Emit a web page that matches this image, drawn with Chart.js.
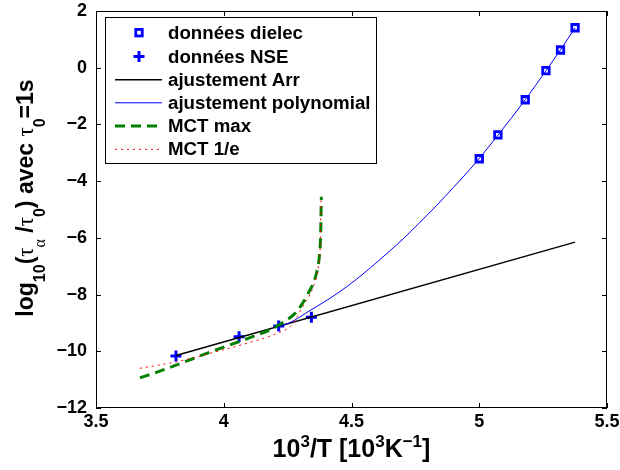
<!DOCTYPE html>
<html><head><meta charset="utf-8">
<script src="https://cdn.jsdelivr.net/npm/chart.js@4/dist/chart.umd.min.js"></script>
<style>html,body{margin:0;padding:0;background:#fff}#wrap{width:620px;height:470px;position:relative}</style>
</head><body><div id="wrap"><canvas id="c" width="620" height="470"></canvas></div>
<script>
// ---- data ----
const seriesLabels = ['données dielec','données NSE','ajustement Arr','ajustement polynomial','MCT max','MCT 1/e'];
const dielecX = [5.0, 5.073, 5.18, 5.261, 5.318, 5.375];
const dielecY = [-3.21, -2.37, -1.13, -0.105, 0.625, 1.41];
const nseX = [3.813, 4.06, 4.215, 4.343];
const nseY = [-10.17, -9.49, -9.11, -8.80];
const arrX = [3.813, 5.375];
const arrY = [-10.15, -6.15];
const polyX = [4.215, 4.259, 4.338, 4.416, 4.494, 4.572, 4.651, 4.703, 4.768, 4.833, 4.899, 4.95, 5.0, 5.073, 5.18, 5.261, 5.318, 5.375];
const polyY = [-9.12, -8.99, -8.56, -8.13, -7.64, -7.07, -6.45, -6.03, -5.45, -4.86, -4.22, -3.72, -3.2, -2.38, -1.13, -0.105, 0.63, 1.41];
const mctMaxX = [3.672, 3.75, 3.816, 3.946, 4.09, 4.19, 4.246, 4.285, 4.331, 4.361, 4.374, 4.379, 4.382];
const mctMaxY = [-10.94, -10.70, -10.48, -10.03, -9.56, -9.20, -8.90, -8.60, -7.95, -7.31, -6.66, -5.96, -4.55];
const mctEX = [3.672, 3.816, 3.946, 4.09, 4.207, 4.266, 4.312, 4.351, 4.37, 4.377, 4.379, 4.381];
const mctEY = [-10.60, -10.37, -10.07, -9.72, -9.37, -9.07, -8.37, -7.72, -7.02, -6.43, -5.6, -4.6];
const xTicks = [3.5, 4, 4.5, 5, 5.5];
const yTicks = [-12, -10, -8, -6, -4, -2, 0, 2];

const pts = (xs, ys) => xs.map((x, i) => ({x, y: ys[i]}));
const SANS = '"Liberation Sans", Arial, Helvetica, sans-serif';
const SERIF = '"Liberation Serif", "Times New Roman", serif';
const B24 = 'bold 23px ' + SANS, B16 = 'bold 16px ' + SANS;
const G24 = '23px ' + SERIF, G16 = '16px ' + SERIF;
const X25 = 'bold 25px ' + SANS, X17 = 'bold 17px ' + SANS;
const fmt = v => String(v).replace('-', '\u2212');

const yTitle = [
  {t:'log', f:B24, d:0}, {t:'10', f:B16, d:12}, {t:'(', f:B24, d:0}, {t:'\u03C4', f:G24, d:0},
  {t:'\u03B1', f:G16, d:12}, {t:' /', f:B24, d:0}, {t:'\u03C4', f:G24, d:0}, {t:'0', f:B16, d:12},
  {t:') avec ', f:B24, d:0}, {t:'\u03C4', f:G24, d:0}, {t:'0', f:B16, d:12}, {t:'=1s', f:B24, d:0}
];
const xTitle = [
  {t:'10', f:X25, d:0}, {t:'3', f:X17, d:-10}, {t:'/T [10', f:X25, d:0}, {t:'3', f:X17, d:-10},
  {t:'K', f:X25, d:0}, {t:'\u22121', f:X17, d:-10}, {t:']', f:X25, d:0}
];

function drawRich(ctx, segs, x, y, rot) {
  ctx.save();
  ctx.translate(x, y);
  if (rot) ctx.rotate(rot);
  ctx.fillStyle = '#000';
  ctx.textBaseline = 'alphabetic';
  ctx.textAlign = 'left';
  let w = 0;
  segs.forEach(s => { ctx.font = s.f; w += ctx.measureText(s.t).width; });
  let cx = -w / 2;
  segs.forEach(s => { ctx.font = s.f; ctx.fillText(s.t, cx, s.d); cx += ctx.measureText(s.t).width; });
  ctx.restore();
}

const framePlugin = {
  id: 'frame',
  beforeDatasetsDraw(chart) {
    const {ctx, chartArea: a, scales: {x, y}} = chart;
    ctx.save();
    ctx.strokeStyle = '#000';
    ctx.lineWidth = 1;
    ctx.strokeRect(a.left + 0.5, a.top + 0.5, a.right - a.left - 1, a.bottom - a.top - 1);
    ctx.beginPath();
    x.ticks.forEach(t => {
      const px = Math.round(x.getPixelForValue(t.value)) + 0.5;
      ctx.moveTo(px, a.bottom); ctx.lineTo(px, a.bottom - 5);
      ctx.moveTo(px, a.top); ctx.lineTo(px, a.top + 5);
    });
    y.ticks.forEach(t => {
      const py = Math.round(y.getPixelForValue(t.value)) + 0.5;
      ctx.moveTo(a.left, py); ctx.lineTo(a.left + 5, py);
      ctx.moveTo(a.right, py); ctx.lineTo(a.right - 5, py);
    });
    ctx.stroke();
    ctx.restore();
  },
  afterDraw(chart) {
    const {ctx, chartArea: a} = chart;
    drawRich(ctx, xTitle, (a.left + a.right) / 2, 457, 0);
    drawRich(ctx, yTitle, 33, 198, -Math.PI / 2);
    // legend box
    ctx.save();
    const L = 105, T = 17, R = 376, Bm = 163;
    ctx.fillStyle = '#fff';
    ctx.fillRect(L, T, R - L, Bm - T);
    ctx.strokeStyle = '#000';
    ctx.lineWidth = 1;
    ctx.strokeRect(L + 0.5, T + 0.5, R - L, Bm - T);
    const rows = [32.7, 56.5, 79.8, 102.8, 126, 149.3];
    const ds = chart.data.datasets;
    ds.forEach((d, i) => {
      const yy = rows[i];
      ctx.save();
      ctx.strokeStyle = d.borderColor;
      ctx.lineWidth = d.borderWidth;
      if (d.showLine) {
        ctx.setLineDash(d.borderDash || []);
        ctx.beginPath(); ctx.moveTo(115, yy); ctx.lineTo(162, yy); ctx.stroke();
      } else if (d.pointStyle === 'rect') {
        const s = d.pointRadius * Math.SQRT1_2;
        ctx.strokeRect(139 - s, yy - s, 2 * s, 2 * s);
      } else {
        const r = d.pointRadius;
        ctx.beginPath(); ctx.moveTo(139 - r, yy); ctx.lineTo(139 + r, yy);
        ctx.moveTo(139, yy - r); ctx.lineTo(139, yy + r); ctx.stroke();
      }
      ctx.restore();
      ctx.fillStyle = '#000';
      ctx.font = 'bold 18.7px ' + SANS;
      ctx.textBaseline = 'middle';
      ctx.textAlign = 'left';
      ctx.fillText(d.label, 168, yy + 1);
    });
    ctx.restore();
  }
};

const lineDs = (label, xs, ys, color, width, dash, order, mono) => ({
  label, data: pts(xs, ys), showLine: true, borderColor: color, backgroundColor: color,
  borderWidth: width, borderDash: dash, pointRadius: 0, fill: false, order,
  cubicInterpolationMode: mono ? 'monotone' : 'default', tension: 0
});

new Chart(document.getElementById('c'), {
  type: 'scatter',
  data: {
    datasets: [
      {label: seriesLabels[0], data: pts(dielecX, dielecY), showLine: false, pointStyle: 'rect',
       pointRadius: 4.6, borderWidth: 2.8, borderColor: '#0000ff', backgroundColor: 'rgba(255,255,255,0)', order: 5},
      {label: seriesLabels[1], data: pts(nseX, nseY), showLine: false, pointStyle: 'cross',
       pointRadius: 5.5, borderWidth: 3, borderColor: '#0000ff', backgroundColor: '#0000ff', order: 4},
      lineDs(seriesLabels[2], arrX, arrY, '#000000', 1.5, [], 3, false),
      lineDs(seriesLabels[3], polyX, polyY, '#0000ff', 1, [], 2, true),
      lineDs(seriesLabels[4], mctMaxX, mctMaxY, '#008000', 3, [10, 6], 1, true),
      lineDs(seriesLabels[5], mctEX, mctEY, '#ff0000', 1, [2, 4], 0, true)
    ]
  },
  options: {
    responsive: false, animation: false, devicePixelRatio: 1,
    layout: {padding: {left: 0, right: 13, top: 11, bottom: 0}},
    plugins: {legend: {display: false}, tooltip: {enabled: false}},
    elements: {point: {hoverRadius: 0}},
    scales: {
      x: {
        type: 'linear', min: 3.5, max: 5.5,
        afterBuildTicks: s => { s.ticks = xTicks.map(v => ({value: v})); },
        afterFit: s => { s.height = 62; s.paddingLeft = 0; s.paddingRight = 0; },
        grid: {display: false, drawTicks: false}, border: {display: false},
        ticks: {color: '#000', padding: 3, maxRotation: 0, autoSkip: false,
                font: {family: SANS, size: 18, weight: 'bold'}, callback: v => fmt(v)}
      },
      y: {
        type: 'linear', min: -12, max: 2,
        afterBuildTicks: s => { s.ticks = yTicks.map(v => ({value: v})); },
        afterFit: s => { s.width = 96; s.paddingTop = 0; s.paddingBottom = 0; },
        grid: {display: false, drawTicks: false}, border: {display: false},
        ticks: {color: '#000', padding: 9, autoSkip: false,
                font: {family: SANS, size: 18, weight: 'bold'}, callback: v => fmt(v)}
      }
    }
  },
  plugins: [framePlugin]
});
</script></body></html>
